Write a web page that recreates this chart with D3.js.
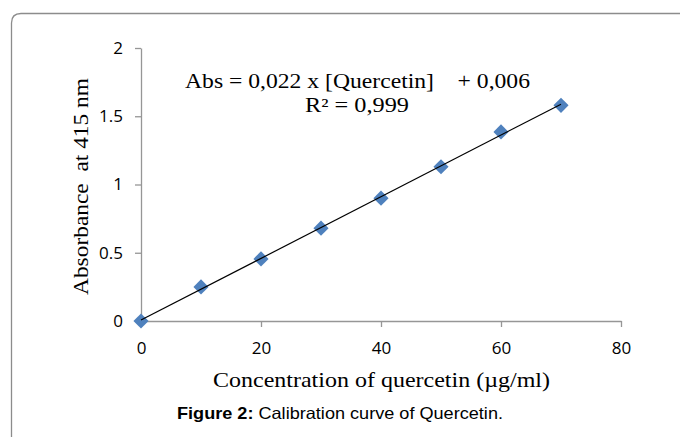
<!DOCTYPE html>
<html><head><meta charset="utf-8">
<script src="https://cdn.jsdelivr.net/npm/d3@7"></script>
<style>body{margin:0;background:#fff;}svg{display:block;}</style>
</head><body>
<script>
const concentration = [0, 10, 20, 30, 40, 50, 60, 70];
const absorbance = [0, 0.25, 0.455, 0.68, 0.90, 1.13, 1.385, 1.58];
const xTicks = [0, 20, 40, 60, 80];
const yTicks = [0, 0.5, 1, 1.5, 2];
const equationText = "Abs = 0,022 x [Quercetin]    + 0,006";
const r2Text = "R² = 0,999";
const xTitle = "Concentration of quercetin (µg/ml)";
const yTitle = "Absorbance  at 415 nm";

const W = 680, H = 437;
const svg = d3.select("body").append("svg").attr("width", W).attr("height", H);

// frame
svg.append("path")
  .attr("d", "M11.5,440 L11.5,23 Q11.5,13.5 21,13.5 L690,13.5")
  .attr("fill", "none").attr("stroke", "#8c8c8c").attr("stroke-width", 1.3);

const x = d3.scaleLinear().domain([0, 80]).range([141, 621]);
const y = d3.scaleLinear().domain([0, 2]).range([321, 48]);
const axisColor = "#969696";
const tickFont = "'Open Sans', 'Noto Sans', sans-serif";

const gx = svg.append("g").attr("transform", `translate(0,${y(0)})`)
  .call(d3.axisBottom(x).tickValues(xTicks).tickSize(6).tickSizeOuter(0).tickPadding(15).tickFormat(d3.format("d")));
const gy = svg.append("g").attr("transform", `translate(${x(0)},0)`)
  .call(d3.axisLeft(y).tickValues(yTicks).tickSize(6).tickSizeOuter(0).tickPadding(12).tickFormat(d => String(d)));
[gx, gy].forEach(g => {
  g.select(".domain").attr("stroke", axisColor).attr("stroke-width", 1.3);
  g.selectAll(".tick line").attr("stroke", axisColor).attr("stroke-width", 1.3);
  g.selectAll("text").attr("fill", "#000").style("font-family", tickFont).style("font-size", "17px");
});

// trendline (least squares fit of the data)
const mx = d3.mean(concentration), my = d3.mean(absorbance);
const slope = d3.sum(concentration, (c, i) => (c - mx) * (absorbance[i] - my)) / d3.sum(concentration, c => (c - mx) ** 2);
const intercept = my - slope * mx;
const x0 = d3.min(concentration), x1 = d3.max(concentration);

const data = concentration.map((c, i) => ({c, a: absorbance[i]}));
svg.append("g").selectAll("path").data(data).join("path")
  .attr("d", d3.symbol(d3.symbolSquare, 115))
  .attr("transform", d => `translate(${x(d.c)},${y(d.a)}) rotate(45)`)
  .attr("fill", "#4f81bd");

svg.append("line")
  .attr("x1", x(x0)).attr("y1", y(slope * x0 + intercept))
  .attr("x2", x(x1)).attr("y2", y(slope * x1 + intercept))
  .attr("stroke", "#000").attr("stroke-width", 1.2);

const serif = "'Liberation Serif', 'Times New Roman', serif";
svg.append("text").attr("x", 185).attr("y", 88).text(equationText)
  .attr("textLength", 345).attr("lengthAdjust", "spacingAndGlyphs")
  .style("font-family", serif).style("font-size", "20px").style("white-space", "pre").attr("xml:space", "preserve");
svg.append("text").attr("x", 305).attr("y", 112).text(r2Text)
  .attr("textLength", 104).attr("lengthAdjust", "spacingAndGlyphs")
  .style("font-family", serif).style("font-size", "20px");

svg.append("text").attr("x", 213).attr("y", 387).text(xTitle)
  .attr("textLength", 337).attr("lengthAdjust", "spacingAndGlyphs")
  .style("font-family", serif).style("font-size", "21px");
svg.append("text").attr("transform", "translate(88,295) rotate(-90)")
  .attr("textLength", 217).attr("lengthAdjust", "spacingAndGlyphs")
  .text(yTitle).style("font-family", serif).style("font-size", "21px").style("white-space", "pre").attr("xml:space", "preserve");

const cap = svg.append("text").attr("x", 177).attr("y", 419)
  .attr("textLength", 326).attr("lengthAdjust", "spacingAndGlyphs")
  .style("font-family", "'Liberation Sans', Arial, sans-serif").style("font-size", "16.5px");
cap.append("tspan").attr("font-weight", "bold").text("Figure 2:");
cap.append("tspan").text(" Calibration curve of Quercetin.");
</script>
</body></html>
